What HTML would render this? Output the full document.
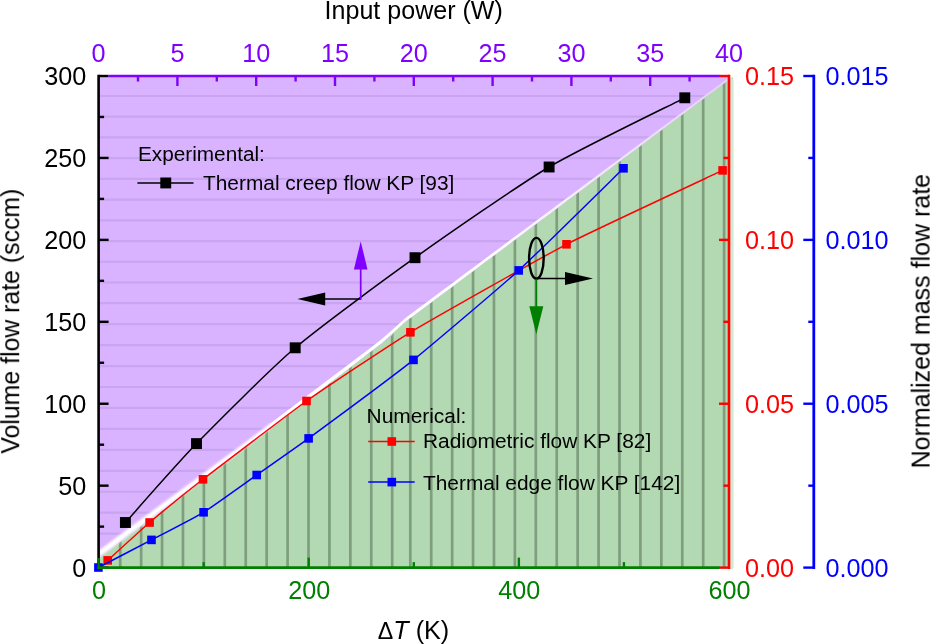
<!DOCTYPE html>
<html><head><meta charset="utf-8"><title>Chart</title>
<style>html,body{margin:0;padding:0;background:#fff;}svg{display:block;}</style>
</head><body>
<svg width="930" height="644" viewBox="0 0 930 644" font-family="'Liberation Sans', sans-serif">
<defs>
<clipPath id="cg"><polygon points="98.6,558.2 250,444.5 392,335.5 394.7,330 727.5,81 733,76.9 733,568.6 98.6,568.6"/></clipPath>
<clipPath id="cp"><polygon points="98.6,76 729,76 727.5,81.5 394.7,330.5 392,336 250,445 98.6,558.7"/></clipPath>
<linearGradient id="wg" gradientUnits="userSpaceOnUse" x1="98.6" y1="556" x2="728" y2="78"><stop offset="0" stop-color="#fff"/><stop offset="0.62" stop-color="#fff"/><stop offset="0.8" stop-color="#f1e8f6"/><stop offset="1" stop-color="#e4d4ee"/></linearGradient>
<filter id="b1" x="-5%" y="-5%" width="110%" height="110%"><feGaussianBlur stdDeviation="0.7"/></filter>
<filter id="b2" x="-5%" y="-5%" width="110%" height="110%"><feGaussianBlur stdDeviation="0.65"/></filter>
<filter id="b3" x="-5%" y="-5%" width="110%" height="110%"><feGaussianBlur stdDeviation="0.75 0"/></filter>
</defs>
<rect width="930" height="644" fill="#fff"/>
<g clip-path="url(#cp)">
<rect x="98.6" y="76" width="632" height="493" fill="#d9b3ff"/>
<g stroke="#c8a5ee" stroke-width="2.2" filter="url(#b1)">
<line x1="98" x2="730" y1="96" y2="96"/>
<line x1="98" x2="730" y1="116.72" y2="116.72"/>
<line x1="98" x2="730" y1="137.44" y2="137.44"/>
<line x1="98" x2="730" y1="158.16" y2="158.16"/>
<line x1="98" x2="730" y1="178.88" y2="178.88"/>
<line x1="98" x2="730" y1="199.6" y2="199.6"/>
<line x1="98" x2="730" y1="220.32" y2="220.32"/>
<line x1="98" x2="730" y1="241.04" y2="241.04"/>
<line x1="98" x2="730" y1="261.76" y2="261.76"/>
<line x1="98" x2="730" y1="282.48" y2="282.48"/>
<line x1="98" x2="730" y1="303.2" y2="303.2"/>
<line x1="98" x2="730" y1="324.15" y2="324.15"/>
<line x1="98" x2="730" y1="345.1" y2="345.1"/>
<line x1="98" x2="730" y1="366.05" y2="366.05"/>
<line x1="98" x2="730" y1="387" y2="387"/>
<line x1="98" x2="730" y1="407.95" y2="407.95"/>
<line x1="98" x2="730" y1="428.9" y2="428.9"/>
<line x1="98" x2="730" y1="449.85" y2="449.85"/>
<line x1="98" x2="730" y1="470.8" y2="470.8"/>
<line x1="98" x2="730" y1="491.75" y2="491.75"/>
<line x1="98" x2="730" y1="512.7" y2="512.7"/>
<line x1="98" x2="730" y1="533.65" y2="533.65"/>
<line x1="98" x2="730" y1="554.6" y2="554.6"/>
</g></g>
<g clip-path="url(#cg)">
<rect x="98.6" y="70" width="634.4" height="499" fill="#b3d9b3"/>
<g stroke="#7e9e7e" stroke-width="2.7" filter="url(#b3)">
<line x1="120.22" x2="120.22" y1="70" y2="569"/>
<line x1="141.14" x2="141.14" y1="70" y2="569"/>
<line x1="162.06" x2="162.06" y1="70" y2="569"/>
<line x1="182.98" x2="182.98" y1="70" y2="569"/>
<line x1="203.9" x2="203.9" y1="70" y2="569"/>
<line x1="224.82" x2="224.82" y1="70" y2="569"/>
<line x1="245.74" x2="245.74" y1="70" y2="569"/>
<line x1="266.66" x2="266.66" y1="70" y2="569"/>
<line x1="287.58" x2="287.58" y1="70" y2="569"/>
<line x1="308.5" x2="308.5" y1="70" y2="569"/>
<line x1="329.42" x2="329.42" y1="70" y2="569"/>
<line x1="350.34" x2="350.34" y1="70" y2="569"/>
<line x1="371.26" x2="371.26" y1="70" y2="569"/>
<line x1="392.18" x2="392.18" y1="70" y2="569"/>
<line x1="410.3" x2="410.3" y1="70" y2="569"/>
<line x1="431.22" x2="431.22" y1="70" y2="569"/>
<line x1="452.14" x2="452.14" y1="70" y2="569"/>
<line x1="473.06" x2="473.06" y1="70" y2="569"/>
<line x1="493.98" x2="493.98" y1="70" y2="569"/>
<line x1="514.9" x2="514.9" y1="70" y2="569"/>
<line x1="535.82" x2="535.82" y1="70" y2="569"/>
<line x1="556.74" x2="556.74" y1="70" y2="569"/>
<line x1="577.66" x2="577.66" y1="70" y2="569"/>
<line x1="598.58" x2="598.58" y1="70" y2="569"/>
<line x1="619.5" x2="619.5" y1="70" y2="569"/>
<line x1="640.42" x2="640.42" y1="70" y2="569"/>
<line x1="661.34" x2="661.34" y1="70" y2="569"/>
<line x1="682.26" x2="682.26" y1="70" y2="569"/>
<line x1="703.18" x2="703.18" y1="70" y2="569"/>
<line x1="724.1" x2="724.1" y1="70" y2="569"/>
</g></g>
<clipPath id="cr"><rect x="99.9" y="77.3" width="629" height="489"/></clipPath>
<clipPath id="crl"><rect x="99.9" y="77.3" width="170.1" height="489"/></clipPath>
<clipPath id="crr"><rect x="270" y="77.3" width="458.9" height="489"/></clipPath>
<filter id="b4" x="-5%" y="-5%" width="110%" height="110%"><feGaussianBlur stdDeviation="1.15"/></filter>
<g clip-path="url(#crl)"><polygon points="90,557.06 106.67,544.65 123.33,532.35 140,520.05 156.67,507.75 173.33,495.45 190,483.15 206.67,470.86 223.33,458.56 240,446.26 256.67,433.85 273.33,421.27 290,408.7 290,413.5 273.33,426.29 256.67,439.08 240,451.71 223.33,464.23 206.67,476.74 190,489.26 173.33,501.78 156.67,514.29 140,526.81 123.33,539.33 106.67,551.84 90,564.36" fill="url(#wg)" filter="url(#b4)"/></g>
<g clip-path="url(#crr)"><polygon points="250,438.88 261.94,429.87 273.88,420.87 285.81,411.86 297.75,402.85 309.69,393.84 321.62,384.84 333.56,375.83 345.5,366.82 357.44,357.82 369.38,348.67 381.31,339.5 393.25,328.95 405.19,318.21 417.12,309.34 429.06,300.46 441,291.59 452.94,282.71 464.88,273.84 476.81,264.96 488.75,256.09 500.69,247.21 512.62,238.34 524.56,229.47 536.5,220.59 548.44,211.72 560.38,202.84 572.31,193.97 584.25,185.09 596.19,176.22 608.12,167.34 620.06,158.47 632,149.59 643.94,140.72 655.88,131.85 667.81,122.97 679.75,114.1 691.69,105.22 703.62,96.35 715.56,87.47 727.5,78.6 727.5,80.7 715.56,89.63 703.62,98.56 691.69,107.49 679.75,116.43 667.81,125.36 655.88,134.29 643.94,143.22 632,152.15 620.06,161.08 608.12,170.02 596.19,178.95 584.25,187.88 572.31,196.81 560.38,205.74 548.44,214.67 536.5,223.61 524.56,232.54 512.62,241.47 500.69,250.4 488.75,259.33 476.81,268.26 464.88,277.2 452.94,286.13 441,295.06 429.06,303.99 417.12,312.92 405.19,321.85 393.25,332.65 381.31,343.4 369.38,352.57 357.44,361.73 345.5,370.89 333.56,380.06 321.62,389.22 309.69,398.38 297.75,407.55 285.81,416.71 273.88,425.87 261.94,435.04 250,444.2" fill="url(#wg)" filter="url(#b2)"/></g>
<rect x="730" y="79" width="3.6" height="489" fill="#d2e9d2"/>
<path d="M125.4,522.5 C133.3,513.73 177.63,463.01 196.5,443.6 C215.37,424.19 270.92,368.46 295.2,347.8 C319.48,327.14 386.79,277.79 415,257.7 C443.21,237.61 519.12,184.77 549.1,167 C579.08,149.23 669.72,105.49 684.8,97.8" fill="none" stroke="#000" stroke-width="1.5"/>
<rect x="119.95" y="517.05" width="10.9" height="10.9" fill="#000"/>
<rect x="191.05" y="438.15" width="10.9" height="10.9" fill="#000"/>
<rect x="289.75" y="342.35" width="10.9" height="10.9" fill="#000"/>
<rect x="409.55" y="252.25" width="10.9" height="10.9" fill="#000"/>
<rect x="543.65" y="161.55" width="10.9" height="10.9" fill="#000"/>
<rect x="679.35" y="92.35" width="10.9" height="10.9" fill="#000"/>
<path d="M107.7,560.4 C110.69,557.69 142.79,528.29 149.6,522.5 C156.41,516.71 191.79,487.98 203,479.3 C214.21,470.62 291.69,411.5 306.5,401 C321.31,390.5 391.83,343.49 410.4,332.3 C428.97,321.11 544.2,255.86 566.5,244.3 C588.8,232.74 711.45,175.68 722.6,170.4" fill="none" stroke="#ff0000" stroke-width="1.45"/>
<rect x="103.4" y="556.1" width="8.6" height="8.6" fill="#ff0000"/>
<rect x="145.3" y="518.2" width="8.6" height="8.6" fill="#ff0000"/>
<rect x="198.7" y="475" width="8.6" height="8.6" fill="#ff0000"/>
<rect x="302.2" y="396.7" width="8.6" height="8.6" fill="#ff0000"/>
<rect x="406.1" y="328" width="8.6" height="8.6" fill="#ff0000"/>
<rect x="562.2" y="240" width="8.6" height="8.6" fill="#ff0000"/>
<rect x="718.3" y="166.1" width="8.6" height="8.6" fill="#ff0000"/>
<path d="M98.4,567.5 C102.19,565.53 143.99,543.84 151.5,539.9 C159.01,535.96 196.09,516.94 203.6,512.3 C211.11,507.66 249.2,480.28 256.7,475 C264.2,469.72 297.4,446.62 308.6,438.4 C319.8,430.18 398.49,371.9 413.5,359.9 C428.51,347.9 503.7,284.09 518.7,270.4 C533.7,256.71 616.01,175.59 623.5,168.3" fill="none" stroke="#0000ff" stroke-width="1.45"/>
<rect x="94.1" y="563.2" width="8.6" height="8.6" fill="#0000ff"/>
<rect x="147.2" y="535.6" width="8.6" height="8.6" fill="#0000ff"/>
<rect x="199.3" y="508" width="8.6" height="8.6" fill="#0000ff"/>
<rect x="252.4" y="470.7" width="8.6" height="8.6" fill="#0000ff"/>
<rect x="304.3" y="434.1" width="8.6" height="8.6" fill="#0000ff"/>
<rect x="409.2" y="355.6" width="8.6" height="8.6" fill="#0000ff"/>
<rect x="514.4" y="266.1" width="8.6" height="8.6" fill="#0000ff"/>
<rect x="619.2" y="164" width="8.6" height="8.6" fill="#0000ff"/>
<g stroke="#000" stroke-width="2.6" fill="none">
<line x1="98.6" x2="98.6" y1="74.7" y2="568.9"/>
<line x1="98.6" x2="108.6" y1="567.6" y2="567.6" stroke-width="2.4"/>
<line x1="98.6" x2="104.1" y1="526.63" y2="526.63" stroke-width="2.4"/>
<line x1="98.6" x2="108.6" y1="485.67" y2="485.67" stroke-width="2.4"/>
<line x1="98.6" x2="104.1" y1="444.7" y2="444.7" stroke-width="2.4"/>
<line x1="98.6" x2="108.6" y1="403.73" y2="403.73" stroke-width="2.4"/>
<line x1="98.6" x2="104.1" y1="362.77" y2="362.77" stroke-width="2.4"/>
<line x1="98.6" x2="108.6" y1="321.8" y2="321.8" stroke-width="2.4"/>
<line x1="98.6" x2="104.1" y1="280.83" y2="280.83" stroke-width="2.4"/>
<line x1="98.6" x2="108.6" y1="239.87" y2="239.87" stroke-width="2.4"/>
<line x1="98.6" x2="104.1" y1="198.9" y2="198.9" stroke-width="2.4"/>
<line x1="98.6" x2="108.6" y1="157.93" y2="157.93" stroke-width="2.4"/>
<line x1="98.6" x2="104.1" y1="116.97" y2="116.97" stroke-width="2.4"/>
<line x1="98.6" x2="108.6" y1="76" y2="76" stroke-width="2.4"/>
</g>
<g stroke="#7f00ff" stroke-width="2.6" fill="none">
<line x1="108.6" x2="719.5" y1="76" y2="76"/>
<line x1="138" x2="138" y1="76" y2="81.5" stroke-width="2.4"/>
<line x1="177.4" x2="177.4" y1="76" y2="86" stroke-width="2.4"/>
<line x1="216.8" x2="216.8" y1="76" y2="81.5" stroke-width="2.4"/>
<line x1="256.2" x2="256.2" y1="76" y2="86" stroke-width="2.4"/>
<line x1="295.6" x2="295.6" y1="76" y2="81.5" stroke-width="2.4"/>
<line x1="335" x2="335" y1="76" y2="86" stroke-width="2.4"/>
<line x1="374.4" x2="374.4" y1="76" y2="81.5" stroke-width="2.4"/>
<line x1="413.8" x2="413.8" y1="76" y2="86" stroke-width="2.4"/>
<line x1="453.2" x2="453.2" y1="76" y2="81.5" stroke-width="2.4"/>
<line x1="492.6" x2="492.6" y1="76" y2="86" stroke-width="2.4"/>
<line x1="532" x2="532" y1="76" y2="81.5" stroke-width="2.4"/>
<line x1="571.4" x2="571.4" y1="76" y2="86" stroke-width="2.4"/>
<line x1="610.8" x2="610.8" y1="76" y2="81.5" stroke-width="2.4"/>
<line x1="650.2" x2="650.2" y1="76" y2="86" stroke-width="2.4"/>
<line x1="689.6" x2="689.6" y1="76" y2="81.5" stroke-width="2.4"/>
</g>
<g stroke="#008000" stroke-width="2.6" fill="none">
<line x1="97.3" x2="719.5" y1="567.6" y2="567.6"/>
<line x1="98.6" x2="98.6" y1="558" y2="568.9" stroke-width="2.4"/>
<line x1="203.67" x2="203.67" y1="567.6" y2="562.1" stroke-width="2.4"/>
<line x1="308.73" x2="308.73" y1="567.6" y2="557.6" stroke-width="2.4"/>
<line x1="413.8" x2="413.8" y1="567.6" y2="562.1" stroke-width="2.4"/>
<line x1="518.87" x2="518.87" y1="567.6" y2="557.6" stroke-width="2.4"/>
<line x1="623.93" x2="623.93" y1="567.6" y2="562.1" stroke-width="2.4"/>
</g>
<g stroke="#ff0000" stroke-width="2.6" fill="none">
<line x1="729" x2="729" y1="74.7" y2="568.9"/>
<line x1="729" x2="719" y1="567.6" y2="567.6" stroke-width="2.4"/>
<line x1="729" x2="723.5" y1="485.67" y2="485.67" stroke-width="2.4"/>
<line x1="729" x2="719" y1="403.73" y2="403.73" stroke-width="2.4"/>
<line x1="729" x2="723.5" y1="321.8" y2="321.8" stroke-width="2.4"/>
<line x1="729" x2="719" y1="239.87" y2="239.87" stroke-width="2.4"/>
<line x1="729" x2="723.5" y1="157.93" y2="157.93" stroke-width="2.4"/>
<line x1="729" x2="719" y1="76" y2="76" stroke-width="2.4"/>
</g>
<g stroke="#0000ff" stroke-width="2.8" fill="none">
<line x1="813.8" x2="813.8" y1="74.7" y2="568.9"/>
<line x1="813.8" x2="803.3" y1="567.6" y2="567.6" stroke-width="2.4"/>
<line x1="813.8" x2="808.3" y1="485.67" y2="485.67" stroke-width="2.4"/>
<line x1="813.8" x2="803.3" y1="403.73" y2="403.73" stroke-width="2.4"/>
<line x1="813.8" x2="808.3" y1="321.8" y2="321.8" stroke-width="2.4"/>
<line x1="813.8" x2="803.3" y1="239.87" y2="239.87" stroke-width="2.4"/>
<line x1="813.8" x2="808.3" y1="157.93" y2="157.93" stroke-width="2.4"/>
<line x1="813.8" x2="803.3" y1="76" y2="76" stroke-width="2.4"/>
</g>
<g>
<line x1="322" x2="361" y1="299" y2="299" stroke="#000" stroke-width="1.7"/>
<polygon points="297.4,299 325.2,292.4 325.2,305.6" fill="#000"/>
<line x1="360.7" x2="360.7" y1="299.8" y2="266" stroke="#7f00ff" stroke-width="1.7"/>
<polygon points="360.7,241.4 353.9,269.5 367.5,269.5" fill="#7f00ff"/>
<ellipse cx="536.4" cy="258.3" rx="7.3" ry="20.4" fill="none" stroke="#000" stroke-width="2.4"/>
<line x1="536.4" x2="569" y1="278.5" y2="278.5" stroke="#000" stroke-width="1.7"/>
<polygon points="593,278.5 565,271.9 565,285.1" fill="#000"/>
<line x1="536.3" x2="536.3" y1="279.3" y2="310" stroke="#008000" stroke-width="1.7"/>
<polygon points="536.3,334.2 529.3,306.3 543.3,306.3" fill="#008000"/>
</g>
<g font-size="20.88" fill="#000" style="will-change:opacity">
<text x="138" y="161" font-size="20.75">Experimental:</text>
<line x1="137.4" x2="193.5" y1="183" y2="183" stroke="#000" stroke-width="1.5"/>
<rect x="160.3" y="177.5" width="10.9" height="10.9"/>
<text x="203" y="190">Thermal creep flow KP [93]</text>
<text x="366.6" y="423.3">Numerical:</text>
<line x1="368.2" x2="414.7" y1="441.5" y2="441.5" stroke="#ff0000" stroke-width="1.5"/>
<rect x="387.5" y="437.2" width="8.6" height="8.6" fill="#ff0000"/>
<text x="423" y="448.4">Radiometric flow KP [82]</text>
<line x1="368.2" x2="414.7" y1="482.1" y2="482.1" stroke="#0000ff" stroke-width="1.5"/>
<rect x="387.5" y="477.8" width="8.6" height="8.6" fill="#0000ff"/>
<text x="423" y="489.8">Thermal edge flow KP [142]</text>
</g>
<g font-size="25.2" style="will-change:opacity">
<text x="86.2" y="576.6" text-anchor="end" fill="#000">0</text>
<text x="86.2" y="494.67" text-anchor="end" fill="#000">50</text>
<text x="86.2" y="412.73" text-anchor="end" fill="#000">100</text>
<text x="86.2" y="330.8" text-anchor="end" fill="#000">150</text>
<text x="86.2" y="248.87" text-anchor="end" fill="#000">200</text>
<text x="86.2" y="166.93" text-anchor="end" fill="#000">250</text>
<text x="86.2" y="85" text-anchor="end" fill="#000">300</text>
<text x="98.6" y="62" text-anchor="middle" fill="#7f00ff">0</text>
<text x="177.4" y="62" text-anchor="middle" fill="#7f00ff">5</text>
<text x="256.2" y="62" text-anchor="middle" fill="#7f00ff">10</text>
<text x="335" y="62" text-anchor="middle" fill="#7f00ff">15</text>
<text x="413.8" y="62" text-anchor="middle" fill="#7f00ff">20</text>
<text x="492.6" y="62" text-anchor="middle" fill="#7f00ff">25</text>
<text x="571.4" y="62" text-anchor="middle" fill="#7f00ff">30</text>
<text x="650.2" y="62" text-anchor="middle" fill="#7f00ff">35</text>
<text x="729" y="62" text-anchor="middle" fill="#7f00ff">40</text>
<text x="99.1" y="599.2" text-anchor="middle" fill="#008000">0</text>
<text x="309.23" y="599.2" text-anchor="middle" fill="#008000">200</text>
<text x="519.37" y="599.2" text-anchor="middle" fill="#008000">400</text>
<text x="729.5" y="599.2" text-anchor="middle" fill="#008000">600</text>
<text x="745" y="576.6" fill="#ff0000">0.00</text>
<text x="745" y="412.73" fill="#ff0000">0.05</text>
<text x="745" y="248.87" fill="#ff0000">0.10</text>
<text x="745" y="85" fill="#ff0000">0.15</text>
<text x="825.6" y="576.6" fill="#0000ff">0.000</text>
<text x="825.6" y="412.73" fill="#0000ff">0.005</text>
<text x="825.6" y="248.87" fill="#0000ff">0.010</text>
<text x="825.6" y="85" fill="#0000ff">0.015</text>
<text x="413.7" y="18.6" text-anchor="middle" fill="#000" font-size="25.05">Input power (W)</text>
<text x="413.5" y="638.7" text-anchor="middle" fill="#000"><tspan font-size="23.2">Δ</tspan><tspan font-style="italic">T</tspan> (K)</text>
<text transform="translate(19.2,321.2) rotate(-90)" text-anchor="middle" fill="#000" font-size="24.85">Volume flow rate (sccm)</text>
<text transform="translate(929.6,321.2) rotate(-90)" text-anchor="middle" fill="#000" font-size="25">Normalized mass flow rate</text>
</g>
</svg>
</body></html>
